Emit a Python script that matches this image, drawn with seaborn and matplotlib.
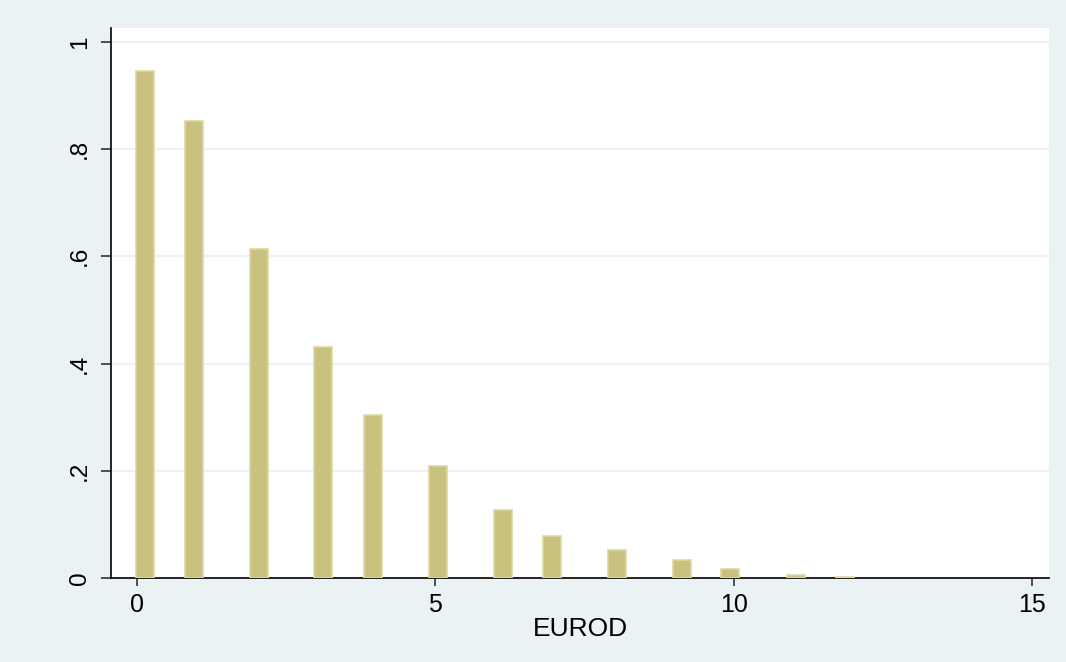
import numpy as np
import pandas as pd
import matplotlib
matplotlib.use("Agg")
import matplotlib.pyplot as plt
import seaborn as sns

# Data
eurod_pos = [0.134, 0.948, 2.04, 3.12, 3.96, 5.05, 6.13, 6.95, 8.04, 9.13, 9.94, 11.04, 11.86]
density = [0.946, 0.853, 0.614, 0.431, 0.305, 0.2095, 0.126, 0.079, 0.053, 0.033, 0.017, 0.006, 0.002]
x_ticks = [0, 5, 10, 15]
y_ticks = [0, 0.2, 0.4, 0.6, 0.8, 1.0]
y_ticklabels = ["0", ".2", ".4", ".6", ".8", "1"]

df = pd.DataFrame({"EUROD": eurod_pos, "density": density})

sns.set_theme(style="white")
plt.rcParams["font.family"] = ["Liberation Sans", "DejaVu Sans"]

BG = "#EAF2F3"
BAR = "#C9C27E"
BAR_EDGE = "#DDD8A2"

fig = plt.figure(figsize=(10.66, 6.62), dpi=100)
fig.patch.set_facecolor(BG)
ax = fig.add_axes([111 / 1066, 1 - 578 / 662, (1049 - 111) / 1066, (578 - 28) / 662])
ax.set_facecolor("white")

bar_width = 0.30
rel_w = bar_width / np.min(np.diff(eurod_pos))
sns.barplot(data=df, x="EUROD", y="density", native_scale=True, width=rel_w,
            color=BAR, saturation=1, errorbar=None, edgecolor=BAR_EDGE,
            linewidth=1.2, ax=ax, zorder=3)

ax.set_xlim(-0.436, 15.28)
ax.set_ylim(0, 1.026)

ax.set_xticks(x_ticks)
ax.set_xticklabels([str(t) for t in x_ticks], fontsize=18)
ax.set_yticks(y_ticks)
ax.set_yticklabels(y_ticklabels, fontsize=17.5, rotation=90, va="center")

for y in y_ticks[1:]:
    ax.axhline(y, color=BG, lw=1.6, zorder=1)

for side in ["top", "right"]:
    ax.spines[side].set_visible(False)
for side in ["left", "bottom"]:
    ax.spines[side].set_visible(True)
    ax.spines[side].set_color("black")
    ax.spines[side].set_linewidth(1.2)

ax.tick_params(axis="x", which="both", bottom=True, length=6, width=1.2,
               color="#333333", pad=5, labelcolor="black")
ax.tick_params(axis="y", which="both", left=True, length=7.5, width=1.2,
               color="#333333", pad=7, labelcolor="black")

ax.set_xlabel("EUROD", fontsize=19, color="black", labelpad=0)
ax.set_ylabel("")

fig.savefig("out.png", dpi=100, facecolor=BG)
